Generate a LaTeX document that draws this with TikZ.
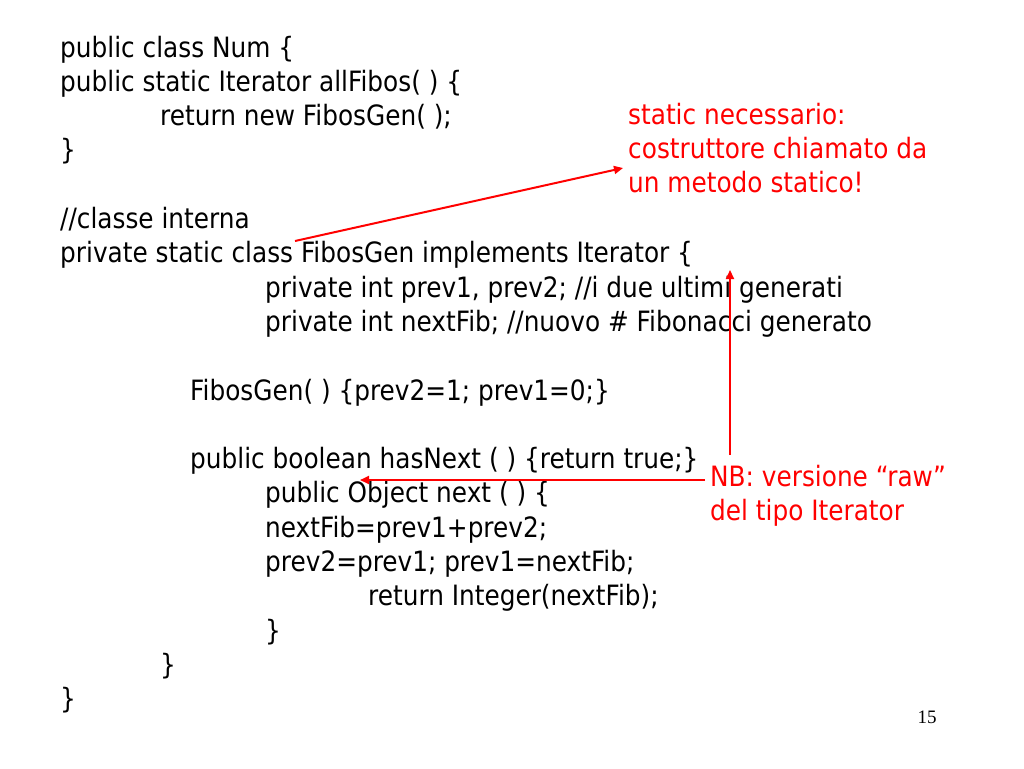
\documentclass[tikz,border=0pt]{standalone}
\usepackage{fontspec}
\setmainfont{DejaVu Sans}[FakeStretch=0.885]
\newfontfamily\pagenofont{Liberation Serif}
\usepackage{tikz}
\usetikzlibrary{calc,arrows.meta}

\newcommand{\codefont}{\fontsize{28}{33.6}\selectfont}

\begin{document}
\begin{tikzpicture}[x=1pt,y=-1pt,
	code/.style={anchor=base west,inner sep=0pt,font=\codefont},
	note/.style={code,text=red,align=left},
	notearrow/.style={red,line width=2pt,-{Triangle[length=9pt,width=8pt]}}]
	\useasboundingbox (0,0) rectangle (1024,768);
	% outer class
	\node[code] (num) at (60,57) {public class Num \{};
	\node[code] (allfibos) at (60,91.3) {public static Iterator allFibos( ) \{};
	\node[code] (retgen) at (160,125.6) {return new FibosGen( );};
	\node[code] (endall) at (60,159.9) {\}};
	% inner class
	\node[code] (comment) at (60,228.5) {//classe interna};
	\node[code] (fibosgen) at (60,262.8) {private static class FibosGen implements Iterator \{};
	\node[code] (prevs) at (265,297.1) {private int prev1, prev2; //i due ultimi generati};
	\node[code] (nextfib) at (265,331.4) {private int nextFib; //nuovo \# Fibonacci generato};
	\node[code] (constr) at (190,400) {FibosGen( ) \{prev2=1; prev1=0;\}};
	\node[code] (hasnext) at (190,468.6) {public boolean hasNext ( ) \{return true;\}};
	\node[code] (next) at (265,502.9) {public Object next ( ) \{};
	\node[code] (sum) at (265,537.2) {nextFib=prev1+prev2;};
	\node[code] (shift) at (265,571.5) {prev2=prev1; prev1=nextFib;};
	\node[code] (retint) at (368,605.8) {return Integer(nextFib);};
	\node[code] (endnext) at (265,640.1) {\}};
	\node[code] (endinner) at (160,674.4) {\}};
	\node[code] (endnum) at (60,708.7) {\}};
	% notes (base = last line)
	\node[note] (statnote) at (628,192) {static necessario:\\costruttore chiamato da\\un metodo statico!};
	\node[note] (rawnote) at (710,520) {NB: versione “raw”\\del tipo Iterator};
	\node[anchor=base,inner sep=0pt,font=\pagenofont\fontsize{19}{19}\selectfont] (pageno) at (927,723) {15};
	% arrows
	\coordinate (fibstart) at (295,241);
	\coordinate (stattip) at (623,168);
	\coordinate (rawleft) at (705,480);
	\coordinate (hastip) at (360,480);
	\coordinate (rawup) at (730,455);
	\coordinate (itertip) at (730,270);
	\draw[notearrow] (fibstart) -- (stattip);
	\draw[notearrow] (rawleft) -- (hastip);
	\draw[notearrow] (rawup) -- (itertip);
\end{tikzpicture}
\end{document}
